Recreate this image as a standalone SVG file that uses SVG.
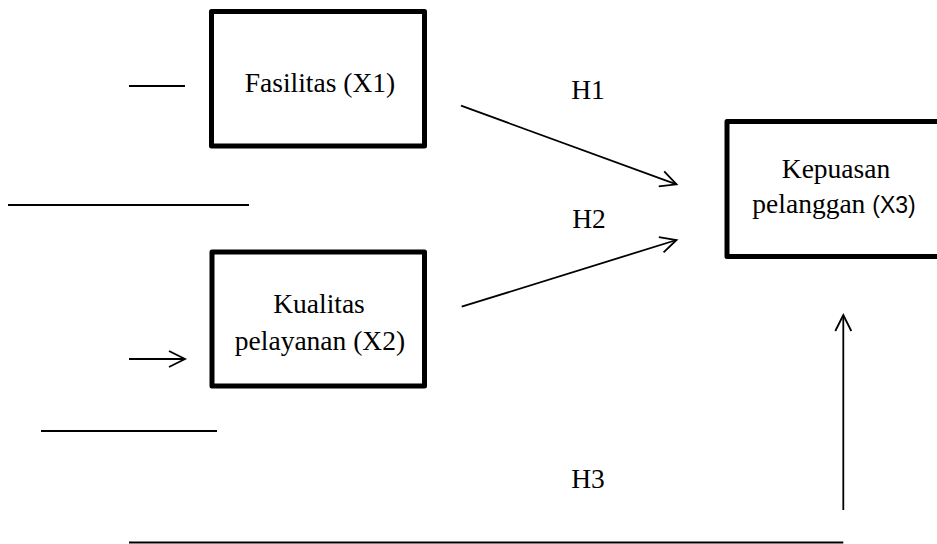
<svg xmlns="http://www.w3.org/2000/svg" width="937" height="544" viewBox="0 0 937 544">
<style>
.box{fill:#fff;stroke:#000;stroke-width:5;stroke-linejoin:round}
.t{font-size:27.5px;fill:#000;text-anchor:middle}
.ln{stroke:#000;stroke-width:1.8;fill:none}
</style>
<defs>
<marker id="arr" markerUnits="userSpaceOnUse" markerWidth="22" markerHeight="22" viewBox="-19 -11 22 22" refX="0" refY="0" orient="auto">
<path d="M-16,-8 L0,0 L-16,8" fill="none" stroke="#000" stroke-width="1.8"/>
</marker>
</defs>
<g id="node-x1">
<rect class="box" x="211.5" y="11.5" width="213" height="134.5"/>
<text class="t" font-family="Liberation Serif, serif" x="320" y="92">Fasilitas (X1)</text>
</g>
<g id="node-x2">
<rect class="box" x="212" y="252" width="212.5" height="134"/>
<text class="t" font-family="Liberation Serif, serif" x="319" y="313">Kualitas</text>
<text class="t" font-family="Liberation Serif, serif" x="320" y="350">pelayanan (X2)</text>
</g>
<g id="node-x3">
<rect class="box" x="727" y="121.5" width="213" height="135"/>
<text class="t" font-family="Liberation Serif, serif" x="836" y="178">Kepuasan</text>
<text class="t" font-family="Liberation Serif, serif" x="834" y="213">pelanggan <tspan font-family="Liberation Sans, sans-serif" font-size="23">(X3)</tspan></text>
</g>
<g id="labels">
<text class="t" font-family="Liberation Serif, serif" x="588" y="99">H1</text>
<text class="t" font-family="Liberation Serif, serif" x="589" y="228">H2</text>
<text class="t" font-family="Liberation Serif, serif" x="588" y="488">H3</text>
</g>
<g id="connectors">
<line class="ln" x1="461" y1="105.7" x2="676.5" y2="184.3" marker-end="url(#arr)"/>
<line class="ln" x1="461.7" y1="306.7" x2="676.5" y2="240" marker-end="url(#arr)"/>
<line class="ln" x1="843.3" y1="510" x2="843.3" y2="315" marker-end="url(#arr)"/>
<line class="ln" x1="129" y1="359" x2="185" y2="359" marker-end="url(#arr)"/>
<line class="ln" x1="129" y1="86" x2="185" y2="86"/>
<line class="ln" x1="8" y1="205" x2="249" y2="205"/>
<line class="ln" x1="41" y1="431" x2="217" y2="431"/>
<line class="ln" x1="129" y1="542.5" x2="843.3" y2="542.5"/>
</g>
</svg>
